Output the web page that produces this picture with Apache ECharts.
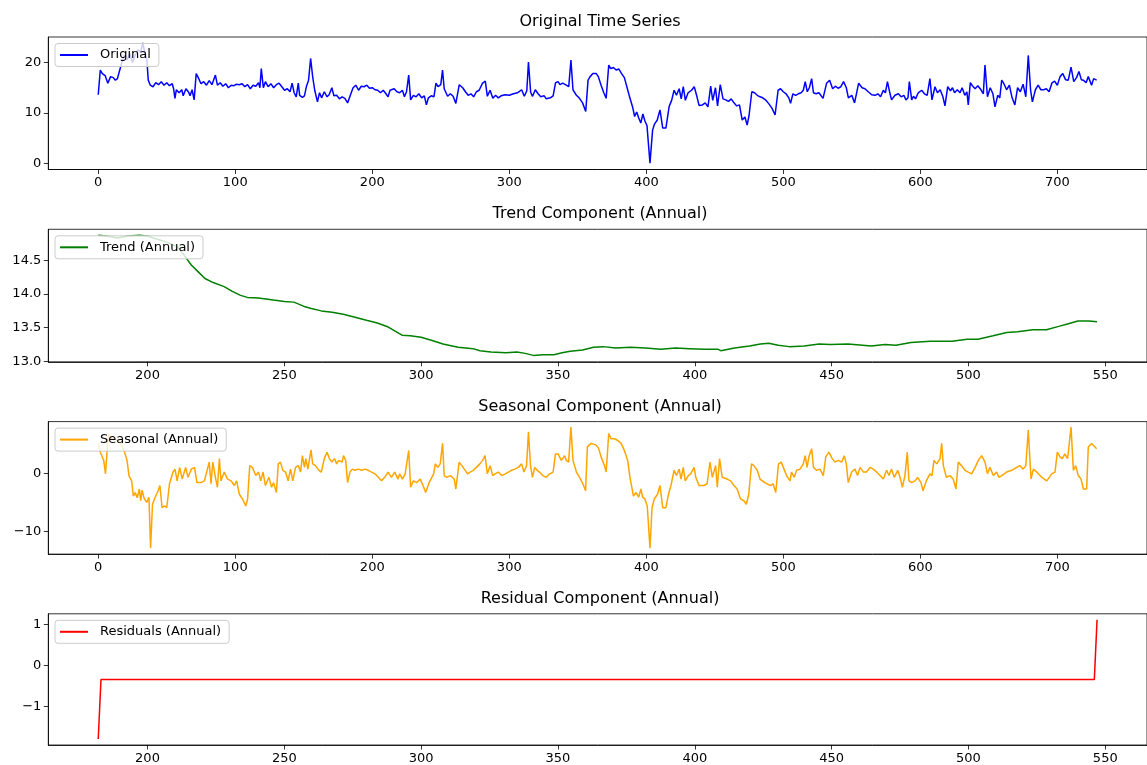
<!DOCTYPE html>
<html><head><meta charset="utf-8">
<script src="https://cdn.jsdelivr.net/npm/echarts@6/dist/echarts.min.js"></script>
<style>html,body{margin:0;padding:0;background:#fff}#c{width:1147px;height:765px}</style>
</head><body><div id="c"></div>
<script>
// ---- data (x = day index, y = value) ----
const originalData = [[0,13.6],[1.5,18.5],[3,17.8],[5,17.4],[7,15.9],[9,17.2],[11,17.0],[12.5,16.5],[14,16.8],[15,17.0],[17,19.8],[19,21.5],[21,20.5],[23,21.8],[25,20.0],[27,21.5],[29,22.5],[31,22.0],[32.5,23.9],[34,22.0],[35.5,20.5],[36.5,16.5],[38,15.5],[40,15.2],[42,16.0],[44,15.6],[46,16.2],[48,15.5],[50,16.0],[52,15.4],[54,15.8],[55,14.8],[56,12.9],[57,14.6],[59,14.0],[61,14.6],[62,13.4],[64,14.8],[66,14.1],[67,13.4],[68.5,14.6],[70,12.6],[71.5,17.8],[73,17.0],[75,15.8],[77,16.2],[79,15.5],[81,16.4],[83,15.6],[85.5,17.5],[87,15.5],[89,16.0],[91,15.3],[93,15.8],[95,15.0],[97,15.5],[99,15.4],[101,15.7],[103,15.6],[105,15.8],[107,15.2],[109,15.6],[111,14.8],[113,15.5],[115,15.3],[117,16.0],[118,15.0],[119,18.8],[120.5,15.0],[122,16.2],[124,15.2],[126,15.8],[128,15.0],[130,15.6],[132,15.9],[134,15.2],[136,14.5],[138,14.8],[140,14.2],[141.5,15.9],[143,14.0],[144.5,13.2],[146,15.9],[147,13.5],[149,13.1],[150.5,13.4],[152,15.3],[153.5,16.5],[155,20.8],[156.5,17.2],[158,14.5],[160,12.2],[161.5,14.0],[163,13.0],[165,14.2],[167,13.2],[168.5,13.6],[170.5,15.0],[172,13.4],[174,13.5],[176,12.8],[178,13.2],[180,12.9],[181,13.0],[182,12.0],[184,13.5],[186,15.0],[188,15.5],[190,14.5],[192,15.3],[194,15.2],[196,15.5],[198,14.9],[200,15.0],[202,14.6],[204,14.5],[206,14.0],[208,14.5],[210,13.8],[211.5,13.2],[213,14.5],[216,14.8],[218,14.2],[220,14.0],[222,14.5],[223.5,13.2],[225,14.2],[226.6,17.5],[228,12.6],[230,13.5],[232,13.2],[234,13.8],[236,13.0],[238,13.4],[239.5,11.6],[241,13.0],[243,13.4],[245,13.2],[246.5,15.9],[248,15.2],[250,15.6],[251.3,18.5],[252.5,14.8],[255,13.3],[257,13.8],[259,13.3],[261,11.9],[263.5,15.6],[266,15.0],[268,14.2],[270,13.5],[272,13.8],[274,13.2],[276,14.2],[278,14.5],[280.5,15.9],[282.5,16.3],[284,13.3],[286,14.5],[288,12.9],[290,13.5],[292,13.0],[294,13.4],[297,13.6],[300,13.5],[303,13.8],[306,14.0],[309,14.6],[311,13.3],[312.8,14.4],[314,20.1],[315.6,14.1],[317,13.3],[319,14.6],[321,13.8],[323,13.2],[325.5,13.4],[327,12.8],[330,13.0],[332,13.4],[333.8,16.0],[335.6,16.2],[337,15.6],[339,15.9],[341.6,15.5],[343.4,15.2],[345,20.5],[346.5,14.6],[349,13.5],[351,13.0],[353.5,12.0],[355.8,10.3],[357.5,16.5],[359,17.2],[361,17.8],[363.5,17.8],[365,17.2],[367,15.5],[369,14.0],[370.7,12.9],[372.6,19.5],[374,18.8],[376,19.0],[378,18.5],[380,18.7],[382,17.8],[384,17.0],[386,15.0],[388,13.0],[390,11.2],[391.5,9.3],[393,10.2],[394.5,9.0],[396,8.0],[397.5,9.8],[399,8.4],[400.5,7.5],[402.7,0.07],[404.6,6.6],[406,7.8],[408,8.6],[410,10.6],[412,7.0],[414.3,7.0],[416.7,11.3],[418.5,12.5],[420.3,14.5],[422,13.5],[424,14.8],[425.5,12.8],[427,15.2],[428.5,12.5],[430.5,14.0],[433,14.5],[435,15.2],[437,13.2],[438.5,11.5],[441,11.6],[443,12.0],[445,11.2],[447,15.3],[448.5,12.5],[450.5,15.0],[452,11.4],[454,15.6],[456,12.8],[458,12.6],[460,12.3],[462,12.8],[464,12.0],[466,11.4],[468,11.6],[470,8.6],[472,9.2],[473.6,7.6],[475,9.5],[477,14.2],[479,14.0],[481,13.5],[483,13.2],[485,13.0],[487,12.6],[489.5,11.8],[491.8,10.9],[494,9.6],[496.2,14.5],[498,14.8],[500,14.2],[502,13.8],[504,13.0],[505.3,11.9],[507,13.8],[509,13.5],[511,13.8],[513,14.0],[514.6,14.5],[516,16.2],[517.5,14.2],[519,15.0],[520.7,16.8],[522,14.0],[524,13.8],[526,14.0],[529,12.9],[531.6,15.9],[533.8,16.5],[536,14.8],[538,15.3],[540,14.9],[542,15.2],[544,16.2],[546,15.0],[547.5,13.0],[550,13.5],[552,12.0],[555,15.9],[557.5,15.0],[559.6,14.8],[562,14.2],[564.5,13.6],[567,13.5],[569,13.8],[571,13.2],[573,14.5],[574.5,14.0],[576,16.2],[577.5,14.3],[579,12.6],[581.5,13.5],[584,13.8],[586,13.2],[588,13.5],[589.5,12.6],[591,13.0],[592,16.2],[593.7,12.6],[595,13.3],[596.5,12.8],[598.5,14.0],[601,14.5],[603,13.8],[605,13.5],[607,16.8],[608.5,12.6],[610.7,15.2],[612.5,14.0],[614.5,14.6],[616.5,13.2],[618,11.4],[620,15.2],[622,14.4],[623.5,15.0],[625,14.0],[627,14.6],[629,14.0],[630.5,15.0],[632.5,13.5],[634,14.2],[635,11.6],[636.5,16.0],[638,15.4],[640,14.8],[642,15.4],[644.5,14.5],[646,13.8],[647.2,19.5],[649,13.2],[651,15.0],[653,13.8],[654.5,11.2],[656.5,13.5],[658,13.0],[659.4,16.5],[661,15.8],[663,14.6],[665,15.5],[667,13.0],[669,11.6],[671,15.0],[673,14.2],[675,15.7],[677,13.2],[678.8,21.4],[680.5,14.5],[681.8,12.2],[684,14.6],[686,15.5],[688,14.6],[690,14.6],[692,14.8],[694,14.2],[696,15.9],[698,16.3],[700,15.5],[702,17.2],[704,17.8],[706,16.6],[708,16.5],[710,19.1],[712,16.2],[714,17.0],[715.8,18.2],[717.5,16.6],[719,16.5],[721,16.0],[722.6,17.2],[724,16.9],[725,15.5],[726.5,16.8],[728.7,16.5]];

const trendData = [[182,14.87],[185,14.86],[189,14.83],[193,14.86],[197,14.87],[200,14.86],[203,14.82],[207,14.77],[211,14.70],[213.5,14.57],[216,14.43],[219,14.31],[221,14.23],[224,14.17],[228,14.11],[231,14.04],[234,13.98],[236.5,13.95],[240.5,13.94],[246,13.91],[250,13.89],[253.5,13.88],[257,13.82],[259.5,13.79],[263.5,13.75],[267.5,13.73],[271.5,13.70],[275.5,13.66],[280,13.61],[284,13.57],[288,13.51],[290.5,13.45],[293,13.39],[296,13.38],[300,13.36],[304,13.31],[308,13.26],[313.5,13.21],[319,13.19],[321.5,13.16],[325.5,13.14],[331,13.13],[335,13.14],[338,13.12],[341,13.09],[344.5,13.10],[348.5,13.10],[351.5,13.13],[354.5,13.15],[359,13.17],[363,13.21],[366.5,13.22],[371,13.20],[376.5,13.21],[382,13.20],[387.5,13.18],[393,13.20],[398,13.19],[403.5,13.18],[408.5,13.18],[409.5,13.16],[414.5,13.20],[420,13.23],[424,13.26],[427,13.27],[430.5,13.24],[434.5,13.22],[440,13.23],[445.5,13.26],[449.5,13.25],[456,13.26],[464.5,13.23],[469.5,13.25],[473.5,13.24],[479,13.28],[486,13.30],[494,13.30],[499.5,13.33],[503.5,13.33],[509,13.38],[514,13.43],[518,13.44],[523.5,13.47],[528.5,13.47],[533,13.52],[536.5,13.56],[540,13.60],[544,13.60],[547,13.59]];

const seasonalData = [[0,5.1],[1.5,3.6],[4,2.2],[5.3,-0.1],[6.5,3.9],[7.6,6.8],[9,5.9],[11.5,5.9],[14,5.6],[16.5,5.1],[19,3.8],[21,2.2],[22.5,-0.5],[24.4,-1.3],[25.6,-3.9],[27,-3.3],[28.5,-4.2],[30,-2.7],[31,-4.7],[32,-2.9],[33.5,-4.3],[35.3,-5.0],[37,-4.1],[38.2,-12.8],[39.6,-5.3],[41,-4.4],[43.7,-3.0],[45,-2.1],[46.6,-5.9],[48.5,-5.6],[50,-5.9],[52,-1.8],[54.6,0.2],[56,0.7],[57.6,-1.3],[59.4,1.0],[61.3,-1.0],[63.8,1.0],[65.5,-0.7],[68,0.7],[70.3,1.0],[72,-1.6],[75,-1.6],[77.5,-1.3],[78.7,-1.6],[81,1.9],[82.3,-1.8],[83.6,1.9],[85.5,-0.7],[87,-2.4],[88.4,2.5],[89.6,-1.3],[92,0.2],[94.4,-1.0],[97,-1.3],[99.3,-2.1],[101,-1.3],[103,-3.6],[105.3,-4.4],[107.7,-5.6],[109,-4.4],[110.6,1.3],[112.5,1.0],[115,-0.4],[117,0.2],[118.6,-1.3],[120.3,0.2],[122,-2.1],[124.6,-0.7],[126.5,-2.4],[128,-1.6],[130,-3.3],[131.4,1.6],[133,1.9],[134.7,0.5],[136.7,0.2],[138.6,-1.3],[140.3,0.7],[142,-1.3],[144,1.0],[146,1.3],[147.7,0.2],[149,3.0],[150.5,1.0],[151.5,2.5],[153,0.7],[155.3,4.0],[156.5,1.6],[158.5,1.3],[161,0.5],[162.8,0.2],[165,2.5],[167,3.6],[168.7,2.5],[170.5,1.9],[172.4,2.5],[174,1.6],[175.5,2.2],[178,1.9],[179,3.0],[180.6,2.2],[182,-1.6],[183.7,0.2],[185.5,0.7],[187.4,0.5],[189.8,0.7],[192.3,0.5],[194.7,0.7],[197,0.5],[199.5,0.2],[202,-0.1],[204.4,-0.7],[206.8,-1.3],[209,-0.7],[211.6,0.2],[213,0.5],[214,-0.7],[216.4,0.2],[218.8,-1.0],[220,-0.1],[222,-1.0],[224,-0.1],[226.6,3.9],[228,-2.4],[230,-1.3],[232.5,-1.6],[235,-1.0],[237,-2.1],[239,-3.3],[241.5,-1.6],[244.8,-0.1],[246,1.6],[247.8,1.0],[249.6,1.6],[251.3,5.1],[252.5,-0.4],[254.5,-0.7],[257,-0.4],[259.8,-1.0],[261,-2.7],[263.4,1.9],[265.4,1.3],[267.8,0.5],[269.5,-0.1],[271.4,0.2],[273.8,0.5],[276,1.0],[278.5,1.6],[280.6,2.2],[282.3,3.0],[284,-0.1],[286,1.3],[287.9,-0.4],[289.6,-0.1],[292,0.2],[294.5,-0.4],[297,-0.1],[299.3,0.2],[301.7,0.5],[304,0.7],[306.6,1.0],[309,1.6],[310.7,0.2],[312.6,1.3],[314,7.1],[315.5,1.3],[316.9,-0.7],[318.6,1.0],[320.3,0.5],[322,0.2],[324.5,-0.4],[327,-0.7],[329.5,-0.1],[332,0.2],[333.7,3.3],[335.6,3.3],[338,2.2],[340.4,3.0],[341.6,2.2],[343.3,1.9],[345,7.9],[346.5,2.2],[349,0.2],[351.3,-0.7],[353.7,-1.8],[355.7,-3.0],[357,4.5],[359.7,5.1],[363.4,4.8],[365.3,4.2],[367,2.8],[369.5,1.3],[370.7,0.2],[372.6,6.8],[374.3,5.9],[376.8,5.9],[379.2,5.6],[381.6,5.1],[384,3.9],[386.4,2.2],[388.1,-0.7],[390.6,-3.9],[392.5,-3.3],[394.4,-4.1],[396.1,-2.7],[397.3,-4.1],[399,-4.4],[400.7,-5.6],[402.7,-12.8],[404.2,-5.9],[405.8,-4.4],[408.2,-3.6],[410,-2.1],[412,-5.9],[414.3,-5.9],[416.2,-3.6],[418,-2.1],[420.3,0.5],[422,-0.4],[424,0.7],[425.3,-1.0],[427,1.0],[428.4,-1.3],[430.7,-0.4],[432.4,-0.1],[434.9,1.0],[436.1,-0.7],[438.5,-2.1],[442,-2.1],[444.4,-1.8],[446.5,1.9],[448.2,-0.7],[450.6,1.3],[451.8,-2.4],[453.5,2.5],[455.4,-0.7],[459,-1.0],[461.5,-1.3],[464,-2.1],[466.3,-2.7],[468.8,-4.4],[471.2,-4.7],[473,-5.3],[474.8,-3.6],[476.8,1.6],[478.5,1.3],[481,0.5],[483,-1.0],[486.5,-1.6],[490.6,-2.1],[492.5,-1.8],[494.5,-3.3],[496.5,1.6],[498.5,1.9],[500,1.0],[502.4,-0.4],[504.9,-1.3],[506,0.2],[508,-0.7],[509.7,0.5],[512.2,0.7],[514.6,1.6],[516,3.0],[517.3,1.0],[518.7,2.8],[520.7,4.2],[522,1.0],[524.3,0.5],[526.8,0.7],[529.2,-0.4],[531,2.8],[533.3,3.6],[535.7,2.5],[537.7,1.9],[540.1,2.2],[542.6,1.9],[544.5,3.0],[546,1.6],[547.4,-1.6],[549.9,0.2],[552.3,0.7],[554.2,-0.4],[556,1.0],[558.4,0.2],[560.8,0.2],[563.3,1.0],[565.7,0.7],[568.1,0.2],[570.6,-0.4],[573,-1.0],[575.4,0.5],[577.1,-0.4],[579,0.7],[581,-0.7],[583.5,0.5],[585.2,-0.7],[586.9,-2.4],[588.8,-0.4],[590.5,3.6],[591.7,-1.3],[593.7,-1.6],[596.1,-1.3],[598,-0.7],[600.5,-1.6],[602,-3.0],[604.4,-1.3],[607,-0.1],[608.5,-0.4],[610,2.2],[612,1.6],[614.4,2.5],[615.6,5.1],[616.8,1.3],[619,-0.7],[621.5,-0.4],[624,-1.0],[626,-2.7],[627.7,1.9],[630.1,1.3],[632.6,0.5],[635,0.2],[637.5,-0.1],[640,1.0],[642.3,2.2],[644.8,3.0],[647.2,1.9],[649,-0.1],[650.8,1.0],[653.3,-0.4],[655.7,0.2],[657.4,-0.7],[659.4,-0.4],[663,0.2],[666.7,0.5],[670.3,1.0],[672.7,1.3],[675.1,0.7],[677,1.3],[678.8,7.4],[680.8,-1.0],[682.5,0.7],[685,0.2],[688.6,-0.7],[692.3,-1.3],[695.9,-0.1],[698.3,0.2],[700,3.6],[702,2.8],[703.6,2.5],[705.5,3.3],[707.5,2.5],[710,7.9],[711.7,0.5],[713.4,1.3],[715.3,-0.4],[717.3,-1.0],[719,-2.7],[721.4,-2.7],[722.6,4.5],[725,5.1],[727.5,4.5],[728.7,4.2]];

const residualData = [[182,-1.79],[183,-0.34],[546,-0.34],[547,1.12]];

// ---- tick labels ----
const xTicksFull = [0,100,200,300,400,500,600,700];
const xTicksAnnual = [200,250,300,350,400,450,500,550];
const yTicksOriginal = [0,10,20];
const yTicksTrend = [13.0,13.5,14.0,14.5];
const yTicksSeasonal = [-10,0];
const yTicksResidual = [-1,0,1];

const titles = ['Original Time Series','Trend Component (Annual)','Seasonal Component (Annual)','Residual Component (Annual)'];
const names = ['Original','Trend (Annual)','Seasonal (Annual)','Residuals (Annual)'];
const colors = ['#0000ff','#008000','#ffa500','#ff0000'];

// ---- layout ----
const FONT = 'DejaVu Sans';
const tops = [37, 229.3, 421.6, 613.8];
const H = 132.5, L = 48.3, W = 1104;
const minus = v => (v < 0 ? '\u2212' : '') + Math.abs(v);

const xRanges = [[-36.45,765.45],[163.75,565.25],[-36.45,765.45],[163.75,565.25]];
const xTicks = [xTicksFull, xTicksAnnual, xTicksFull, xTicksAnnual];
const yRanges = [[-1.2,25.05],[12.995,14.96],[-13.83,8.83],[-1.935,1.265]];
const yTicks = [yTicksOriginal, yTicksTrend, yTicksSeasonal, yTicksResidual];
const yFmt = [minus, v => v.toFixed(1), minus, minus];
const seriesData = [originalData, trendData, seasonalData, residualData];

const tickStyle = {color:'#000', width:0.8};
const labelBase = {fontFamily:FONT, fontSize:13, color:'#000'};

const option = {
  animation:false,
  backgroundColor:'#fff',
  grid: tops.map(t => ({left:L, top:t, width:W, height:H, show:true, borderColor:'#000', borderWidth:0.8, backgroundColor:'transparent', containLabel:false})),
  xAxis: tops.map((t,i) => ({
    type:'value', gridIndex:i, min:xRanges[i][0], max:xRanges[i][1], position:'bottom',
    axisLine:{show:true, onZero:false, lineStyle:{color:'#000', width:0.8}}, splitLine:{show:false},
    axisTick:{show:true, inside:false, customValues:xTicks[i], length:4.5, lineStyle:tickStyle},
    axisLabel:Object.assign({customValues:xTicks[i], margin:7, formatter:minus}, labelBase)
  })),
  yAxis: tops.map((t,i) => ({
    type:'value', gridIndex:i, min:yRanges[i][0], max:yRanges[i][1], position:'left',
    axisLine:{show:true, onZero:false, lineStyle:{color:'#000', width:0.8}}, splitLine:{show:false},
    axisTick:{show:true, inside:false, customValues:yTicks[i], length:4.5, lineStyle:tickStyle},
    axisLabel:Object.assign({customValues:yTicks[i], margin:7, formatter:yFmt[i]}, labelBase)
  })),
  legend: names.map((n,i) => ({
    data:[n], left:55, top:tops[i]+6.5, icon:'rect', itemWidth:28, itemHeight:2,
    padding:[5,8,5,5], backgroundColor:'rgba(255,255,255,0.8)', borderColor:'#cccccc', borderWidth:1, borderRadius:3,
    textStyle:{fontFamily:FONT, fontSize:13, color:'#000', padding:[0,0,0,7]}
  })),
  graphic: titles.map((t,i) => ({
    type:'text', x:600, y:tops[i]-15, silent:true,
    style:{text:t, font:'16px "DejaVu Sans"', fill:'#000', textAlign:'center', textVerticalAlign:'middle'}
  })),
  series: seriesData.map((d,i) => ({
    type:'line', name:names[i], xAxisIndex:i, yAxisIndex:i, data:d,
    showSymbol:false, symbol:'none', clip:true,
    lineStyle:{color:colors[i], width:1.5}, itemStyle:{color:colors[i]}
  }))
};
const chart = echarts.init(document.getElementById('c'), null, {renderer:'canvas'});
chart.setOption(option);
</script>
</body></html>
